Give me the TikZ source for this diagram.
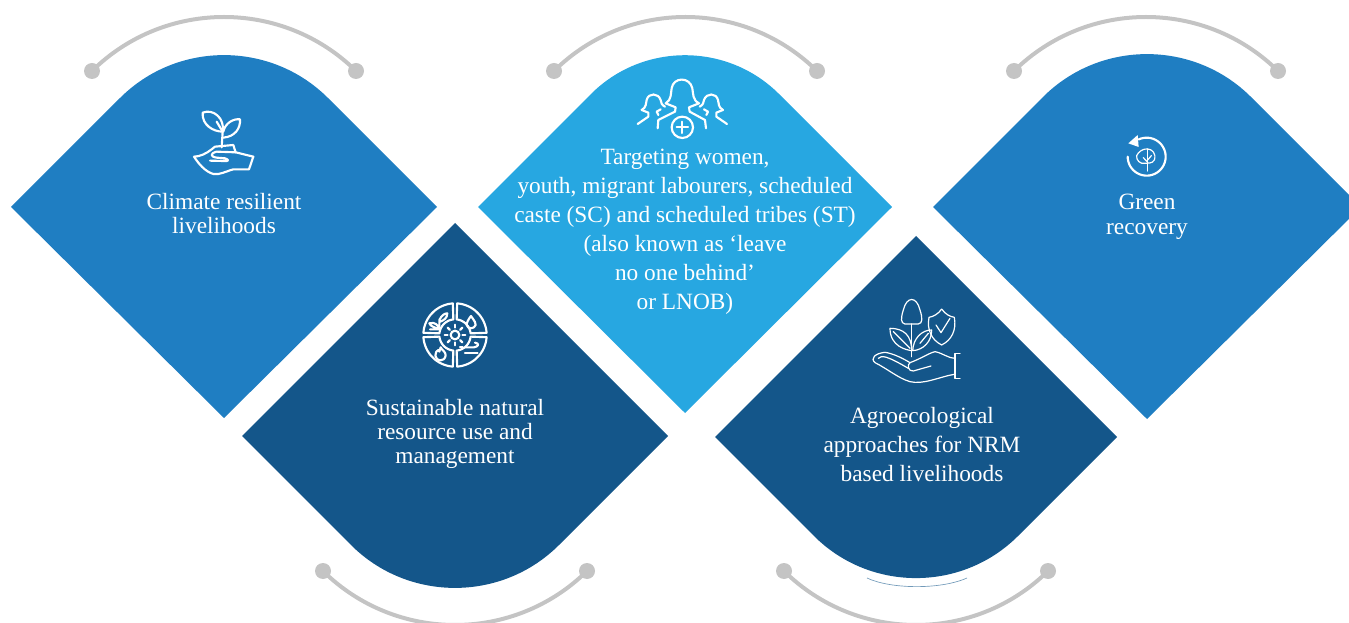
\documentclass[tikz,border=0pt]{standalone}
\usepackage{fontspec}
\setmainfont{Liberation Serif}
\definecolor{midblue}{HTML}{1F7EC2}
\definecolor{darkblue}{HTML}{14568A}
\definecolor{lightblue}{HTML}{27A7E1}
\definecolor{linkgrey}{HTML}{C4C4C4}
\tikzset{
    label/.style={text=white,align=center,font=\fontsize{17.5}{#1}\selectfont},
    label/.default=18pt,
    icon/.style={draw=white,line width=1.6pt,line cap=round,line join=round},
    thinicon/.style={draw=white,line width=0.9pt,line cap=round,line join=round},
    link/.style={draw=linkgrey,line width=3pt},
    zoomed/.style={shift={(#1)},scale=0.3333}
}
% x, half width, y of the wide corners, y of the sharp tip, side of the rounded apex, colour, reach of the rounding
\newcommand{\petal}[7] {
	\fill[#6] (#1-#2,#3) -- (#1,#4) -- (#1+#2,#3)
		-- (#1+#7,#3+#5*#2-#5*#7) .. controls (#1+#7*0.45,#3+#5*#2-#5*#7*0.45) and (#1-#7*0.45,#3+#5*#2-#5*#7*0.45) .. (#1-#7,#3+#5*#2-#5*#7) -- cycle;
}
% left x, right x, y of the dots, y of the control points, name
\newcommand{\linkArc}[5] {
	\coordinate (#5a) at (#1,#3);
	\coordinate (#5b) at (#2,#3);
	\draw[link] (#5a) .. controls (#1+73,#4) and (#2-73,#4) .. (#5b);
	\fill[linkgrey] (#5a) circle [radius=8];
	\fill[linkgrey] (#5b) circle [radius=8];
}
\begin{document}
\begin{tikzpicture}[x=0.75pt,y=-0.75pt]
	\useasboundingbox (0,0) rectangle (1349,623);
	\clip (0,0) rectangle (1349,623);

	% grey links
	\linkArc{92}{356}{71}{-1}{topA}
	\linkArc{554}{817}{71}{-1}{topB}
	\linkArc{1014}{1278}{71}{-1}{topC}
	\linkArc{323}{587}{571}{643}{botA}
	\linkArc{784}{1048}{571}{643}{botB}

	% diamonds
	\petal{224}{213}{207}{418}{-1}{midblue}{104}
	\petal{685}{207}{207}{413}{-1}{lightblue}{94}
	\petal{1147}{214}{207}{419}{-1}{midblue}{104}
	\petal{455}{213}{436}{223}{1}{darkblue}{104}
	\petal{916}{201}{437}{236}{1}{darkblue}{102}
	% sliver under the last one
	\draw[draw=darkblue!60,line width=0.5pt] (867,578) .. controls (890,589) and (940,590) .. (967,578);

	% labels
	\node[label=18pt] (climate) at (224,214) {Climate resilient\\livelihoods};
	\node[label=18pt] (natural) at (455,434) {Sustainable natural\\resource use and\\management};
	\node[label=21.75pt] (targeting) at (685,232) {Targeting women,\\youth, migrant labourers, scheduled\\caste (SC) and scheduled tribes (ST)\\(also known as ‘leave\\no one behind’\\or LNOB)};
	\node[label=18.75pt] (green) at (1147,217) {Green\\recovery};
	\node[label=21.75pt] (agro) at (922,445) {Agroecological\\approaches for NRM\\based livelihoods};

	% seedling
	\begin{scope}[zoomed={170,90}]
		\draw[icon] (158,125) .. controls (130,125) and (95,105) .. (98,68) .. controls (130,55) and (165,85) .. (158,125) -- (155,172);
		\draw[icon] (140,95) -- (158,125);
		\draw[icon] (160,125) .. controls (165,100) and (190,85) .. (210,88) .. controls (212,115) and (195,140) .. (160,143);
		\draw[icon] (72,200) .. controls (90,200) and (110,190) .. (125,178) -- (135,170) -- (190,165) -- (197,187) -- (250,200) -- (237,238) -- (190,238) .. controls (165,245) and (150,255) .. (130,252) .. controls (105,245) and (85,220) .. (72,200);
		\draw[icon] (197,187) -- (140,185) .. controls (120,190) and (120,200) .. (140,203) -- (165,205) .. controls (180,210) and (175,215) .. (160,213) -- (120,212);
	\end{scope}

	% wheel
	\begin{scope}[zoomed={410,290}]
		\begin{scope}[shift={(135,135)}]
			\foreach \a in {0,90,180,270} {
				\draw[icon] plot[domain=\a+4:\a+86,samples=20] (\x:95) -- plot[domain=\a+84:\a+6,samples=12] (\x:47) -- cycle;
			}
			\draw[icon] (0,0) circle [radius=13];
			\foreach \a in {0,45,...,315} {
				\draw[icon] (\a:22) -- (\a:31);
			}
		\end{scope}
		\draw[icon] (60,118) -- (88,118) .. controls (85,105) and (75,95) .. (58,100) .. controls (62,110) and (75,112) .. (88,118) -- (88,90) .. controls (95,75) and (105,70) .. (112,70) .. controls (112,85) and (100,92) .. (88,96);
		\draw[icon] (183,78) .. controls (195,95) and (198,100) .. (197,105) .. controls (193,118) and (173,118) .. (170,105) .. controls (170,98) and (175,88) .. (183,78);
		\draw[icon] (92,172) .. controls (95,180) and (108,185) .. (107,197) .. controls (103,217) and (78,215) .. (76,197) .. controls (76,188) and (80,182) .. (85,180) -- (88,185) -- (92,172);
		\draw[icon] (150,172) -- (158,172);
		\draw[icon] (165,172) -- (192,172) .. controls (205,170) and (210,160) .. (195,158);
		\draw[icon] (165,188) -- (203,188);
	\end{scope}

	% women with plus
	\begin{scope}[zoomed={625,70}]
		\draw[icon] (150,125) -- (152,112) -- (122,100) .. controls (140,90) and (137,70) .. (140,55) .. controls (145,20) and (195,20) .. (202,55) .. controls (205,70) and (202,90) .. (222,100) -- (192,112) -- (194,125) -- (240,150) -- (243,175);
		\draw[icon] (150,125) -- (100,150) -- (98,175);
		\draw[icon] (107,118) -- (95,125) -- (100,135);
		\draw[icon] (50,120) .. controls (65,112) and (62,100) .. (65,90) .. controls (70,68) and (100,68) .. (107,90) .. controls (108,98) and (110,105) .. (120,110);
		\draw[icon] (50,120) -- (70,128) -- (70,140) -- (38,162);
		\draw[icon] (237,118) -- (249,125) -- (244,135);
		\draw[icon] (294,120) .. controls (279,112) and (282,100) .. (279,90) .. controls (274,68) and (244,68) .. (237,90) .. controls (236,98) and (234,105) .. (224,110);
		\draw[icon] (294,120) -- (274,128) -- (274,140) -- (306,162);
		\draw[icon] (172,172) circle [radius=32];
		\draw[icon] (155,172) -- (189,172);
		\draw[icon] (172,155) -- (172,189);
	\end{scope}

	% tree with return arrow
	\begin{scope}[zoomed={1110,125}]
		\begin{scope}[shift={(110,95)}]
			\draw[icon] plot[domain=-115:180,samples=40] (\x:57);
		\end{scope}
		\fill[white] (55,55) -- (83,30) -- (86,66) -- cycle;
		\draw[thinicon] (113,72) .. controls (125,72) and (140,85) .. (133,105) .. controls (125,118) and (115,112) .. (105,115) .. controls (90,118) and (78,105) .. (80,92) .. controls (85,80) and (100,70) .. (113,72);
		\draw[thinicon] (113,72) -- (113,138);
		\draw[thinicon] (113,105) -- (124,92);
		\draw[thinicon] (113,112) -- (100,98);
	\end{scope}

	% agroecology hand
	\begin{scope}[zoomed={860,290}]
		\draw[thinicon] (155,102) -- (135,102) .. controls (122,100) and (122,85) .. (130,60) .. controls (140,18) and (170,18) .. (180,60) .. controls (188,85) and (188,100) .. (175,102) -- cycle;
		\draw[thinicon] (155,102) -- (155,200);
		\draw[thinicon] (155,182) .. controls (140,180) and (90,170) .. (90,115) .. controls (130,115) and (155,135) .. (155,182);
		\draw[thinicon] (100,125) -- (150,175);
		\draw[thinicon] (158,182) .. controls (160,145) and (185,120) .. (215,120) .. controls (215,155) and (190,180) .. (158,182);
		\draw[thinicon] (180,160) -- (205,130);
		\draw[thinicon] (245,57) .. controls (235,72) and (220,80) .. (207,82) .. controls (200,120) and (215,150) .. (245,165) .. controls (275,150) and (290,120) .. (283,82) .. controls (270,80) and (255,72) .. (245,57);
		\draw[thinicon] (228,105) -- (243,128) -- (270,85);
		\draw[thinicon] (285,205) .. controls (265,205) and (250,190) .. (225,185) .. controls (205,190) and (185,205) .. (150,218) .. controls (140,225) and (145,245) .. (160,243) -- (213,228);
		\draw[thinicon] (150,218) .. controls (120,200) and (95,190) .. (75,187) .. controls (45,190) and (30,205) .. (45,218) .. controls (80,235) and (115,265) .. (150,275) .. controls (190,285) and (240,260) .. (283,253);
		\draw[thinicon] (55,205) .. controls (65,195) and (80,197) .. (145,235);
		\draw[thinicon] (300,190) -- (285,190) -- (285,265) -- (300,265);
	\end{scope}
\end{tikzpicture}
\end{document}
